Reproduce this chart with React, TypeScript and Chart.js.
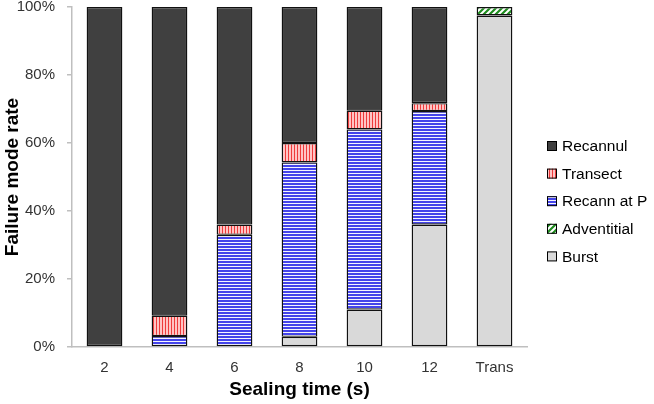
import React, { useEffect, useRef } from "react";
import { Chart, registerables } from "chart.js";

Chart.register(...registerables);

const categories = ["2", "4", "6", "8", "10", "12", "Trans"];
const burst = [0, 0, 0, 3, 11, 36, 97.5];
const adventitial = [0, 0, 0, 0, 0, 0, 2.5];
const recannAtP = [0, 3.2, 33, 51.3, 53, 33.4, 0];
const transect = [0, 6, 3, 5.7, 5.5, 2.3, 0];
const recannul = [100, 90.8, 64, 40, 30.5, 28.3, 0];
const yTicks = [0, 20, 40, 60, 80, 100];

const FONT = "'Liberation Sans', Arial, sans-serif";

function makePattern(kind: string): CanvasPattern | string {
  const c = document.createElement("canvas");
  const ctx = c.getContext("2d")!;
  if (kind === "vertical") {
    c.width = 3; c.height = 1;
    ctx.fillStyle = "#ffc4c4"; ctx.fillRect(0, 0, 3, 1);
    ctx.fillStyle = "#ee3b3b"; ctx.fillRect(0, 0, 1, 1);
  } else if (kind === "horizontal") {
    c.width = 1; c.height = 3;
    ctx.fillStyle = "#f4f4ff"; ctx.fillRect(0, 0, 1, 3);
    ctx.fillStyle = "#4444ea"; ctx.fillRect(0, 0, 1, 2);
  } else {
    c.width = 6; c.height = 6;
    ctx.fillStyle = "#ffffff"; ctx.fillRect(0, 0, 6, 6);
    ctx.strokeStyle = "#1e8c1e"; ctx.lineWidth = 2.2;
    ctx.beginPath();
    ctx.moveTo(-1, 7); ctx.lineTo(7, -1);
    ctx.moveTo(-4, 4); ctx.lineTo(4, -4);
    ctx.moveTo(2, 10); ctx.lineTo(10, 2);
    ctx.stroke();
  }
  return ctx.createPattern(c, "repeat")!;
}

const legendPlugin = {
  id: "customLegend",
  afterDraw(chart: any) {
    const ctx = chart.ctx;
    const ds = [...chart.data.datasets].reverse();
    const x0 = 547;
    const y0 = 146;
    const gap = 27.6;
    ctx.save();
    ds.forEach((d: any, i: number) => {
      const cy = y0 + i * gap;
      ctx.fillStyle = d.backgroundColor;
      ctx.fillRect(x0, cy - 5, 10, 10);
      ctx.strokeStyle = "#000";
      ctx.lineWidth = 1;
      ctx.strokeRect(x0 + 0.5, cy - 4.5, 9, 9);
      ctx.fillStyle = "#000";
      ctx.font = `15.5px ${FONT}`;
      ctx.textBaseline = "middle";
      ctx.textAlign = "left";
      ctx.fillText(d.label, x0 + 15, cy + 1);
    });
    ctx.restore();
  },
};

export default function App() {
  const ref = useRef<HTMLCanvasElement>(null);
  useEffect(() => {
    const common = {
      borderColor: "#111",
      borderWidth: 1.4,
      borderSkipped: false as const,
      barPercentage: 0.55,
      categoryPercentage: 1,
    };
    const chart = new Chart(ref.current!, {
      type: "bar",
      data: {
        labels: categories,
        datasets: [
          { label: "Burst", data: burst, backgroundColor: "#d9d9d9", ...common },
          { label: "Adventitial", data: adventitial, backgroundColor: makePattern("diag") as any, ...common },
          { label: "Recann at P", data: recannAtP, backgroundColor: makePattern("horizontal") as any, ...common },
          { label: "Transect", data: transect, backgroundColor: makePattern("vertical") as any, ...common },
          { label: "Recannul", data: recannul, backgroundColor: "#404040", ...common },
        ],
      },
      options: {
        responsive: false,
        animation: false,
        layout: { padding: { left: 0, right: 127, top: 7, bottom: 0 } },
        plugins: { legend: { display: false }, tooltip: { enabled: false } },
        scales: {
          x: {
            stacked: true,
            grid: { display: false },
            border: { display: true, color: "#bfbfbf", width: 1.5 },
            ticks: { color: "#333", font: { family: FONT, size: 15 }, padding: 4 },
            title: {
              display: true,
              text: "Sealing time (s)",
              color: "#000",
              font: { family: FONT, size: 19, weight: "bold" },
              padding: { top: 0, bottom: 3 },
            },
            afterFit: (s: any) => {
              s.height = 57;
              s.paddingLeft = 0;
              s.paddingRight = 0;
            },
          },
          y: {
            stacked: true,
            min: 0,
            max: 100,
            afterBuildTicks: (s: any) => { s.ticks = yTicks.map((v) => ({ value: v })); },
            grid: { drawOnChartArea: false, drawTicks: true, tickLength: 5, color: "#bfbfbf", lineWidth: 1.5 },
            border: { display: true, color: "#bfbfbf", width: 1.5 },
            ticks: {
              color: "#333",
              font: { family: FONT, size: 15 },
              padding: 12,
              callback: (v: any) => `${v}%`,
            },
            title: {
              display: true,
              text: "Failure mode rate",
              color: "#000",
              font: { family: FONT, size: 19, weight: "bold" },
              padding: { top: 1, bottom: 0 },
            },
            afterFit: (s: any) => {
              s.width = 72;
              s.paddingTop = 0;
              s.paddingBottom = 0;
            },
          },
        },
      },
      plugins: [legendPlugin],
    });
    return () => chart.destroy();
  }, []);
  return (
    <div style={{ position: "absolute", left: 0, top: 0, width: 654, height: 404, background: "#fff" }}>
      <canvas ref={ref} width={654} height={404} />
    </div>
  );
}
